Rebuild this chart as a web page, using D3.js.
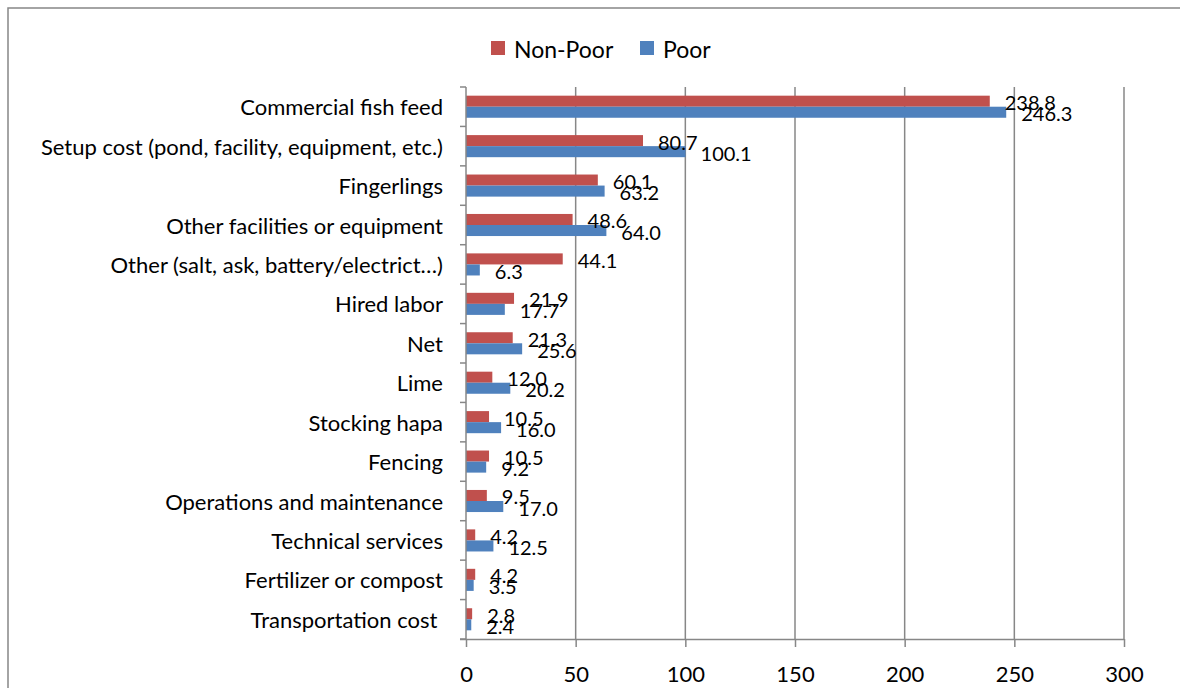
<!DOCTYPE html>
<html>
<head>
<meta charset="utf-8">
<script src="https://cdn.jsdelivr.net/npm/d3@7"></script>
<style>
  html, body { margin: 0; padding: 0; background: #fff; overflow: hidden; }
  svg { display: block; font-family: Lato, "Open Sans", sans-serif; }
</style>
</head>
<body>
<svg id="chart" width="1180" height="688"></svg>
<script>
// Cost categories, top to bottom
const categories = [
  "Commercial fish feed",
  "Setup cost (pond, facility, equipment, etc.)",
  "Fingerlings",
  "Other facilities or equipment",
  "Other (salt, ask, battery/electrict…)",
  "Hired labor",
  "Net",
  "Lime",
  "Stocking hapa",
  "Fencing",
  "Operations and maintenance",
  "Technical services",
  "Fertilizer or compost",
  "Transportation cost "
];
const seriesNames = ["Non-Poor", "Poor"];
const nonPoor = [238.8, 80.7, 60.1, 48.6, 44.1, 21.9, 21.3, 12.0, 10.5, 10.5, 9.5, 4.2, 4.2, 2.8];
const poor    = [246.3, 100.1, 63.2, 64.0, 6.3, 17.7, 25.6, 20.2, 16.0, 9.2, 17.0, 12.5, 3.5, 2.4];
const xTicks  = [0, 50, 100, 150, 200, 250, 300];

const colors = { "Non-Poor": "#C0504D", "Poor": "#4F81BD" };
const gridColor = "#878787";

const rows = categories.map((c, i) => ({
  category: c,
  values: [
    { series: "Non-Poor", value: nonPoor[i] },
    { series: "Poor", value: poor[i] }
  ]
}));

const svg = d3.select("#chart");

// outer chart frame (runs off the right and bottom edges)
svg.append("rect")
  .attr("x", 8).attr("y", 8)
  .attr("width", 1300).attr("height", 900)
  .attr("fill", "none")
  .attr("stroke", gridColor)
  .attr("stroke-width", 1.5);

const plot = { left: 466, right: 1124, top: 87, bottom: 639 };

const x = d3.scaleLinear().domain([0, 300]).range([plot.left, plot.right]);
const y = d3.scaleBand().domain(categories)
  .range([plot.top, plot.bottom])
  .paddingInner(0.44).paddingOuter(0.22);
const ySeries = d3.scaleBand().domain(seriesNames).range([0, y.bandwidth()]);

// vertical gridlines
svg.append("g")
  .selectAll("line")
  .data(xTicks.filter(t => t > 0))
  .join("line")
  .attr("x1", d => x(d)).attr("x2", d => x(d))
  .attr("y1", plot.top).attr("y2", plot.bottom)
  .attr("stroke", gridColor).attr("stroke-width", 1.5);

// bars
const groups = svg.append("g")
  .selectAll("g")
  .data(rows)
  .join("g")
  .attr("transform", d => `translate(0,${y(d.category)})`);

groups.selectAll("rect")
  .data(d => d.values)
  .join("rect")
  .attr("x", x(0))
  .attr("y", d => ySeries(d.series))
  .attr("width", d => x(d.value) - x(0))
  .attr("height", ySeries.bandwidth())
  .attr("fill", d => colors[d.series]);

// value labels
groups.selectAll("text")
  .data(d => d.values)
  .join("text")
  .attr("x", d => x(d.value) + 15)
  .attr("y", d => ySeries(d.series) + ySeries.bandwidth() / 2 + 1)
  .attr("dominant-baseline", "central")
  .attr("font-size", 20)
  .attr("fill", "#000")
  .text(d => d.value.toFixed(1));

// bottom axis
const xAxis = svg.append("g")
  .attr("transform", `translate(0,${plot.bottom})`)
  .call(d3.axisBottom(x).tickValues(xTicks).tickSize(8).tickSizeOuter(0).tickPadding(19));
xAxis.select(".domain").attr("stroke", gridColor).attr("stroke-width", 1.5)
  .attr("d", `M${plot.left - 6},0.5H${plot.right}`);
xAxis.selectAll(".tick line").attr("stroke", gridColor).attr("stroke-width", 1.5);
xAxis.selectAll(".tick text")
  .attr("font-size", 22).attr("font-family", "Lato, sans-serif").attr("fill", "#000");

// left axis line with ticks at category boundaries
const yAxisG = svg.append("g");
yAxisG.append("line")
  .attr("x1", plot.left).attr("x2", plot.left)
  .attr("y1", plot.top).attr("y2", plot.bottom)
  .attr("stroke", gridColor).attr("stroke-width", 1.5);
const boundaries = categories.map(c => y(c) - y.step() * y.paddingInner() / 2)
  .concat([plot.bottom]);
yAxisG.selectAll("line.tick")
  .data(boundaries)
  .join("line")
  .attr("class", "tick")
  .attr("x1", plot.left - 6).attr("x2", plot.left)
  .attr("y1", d => d).attr("y2", d => d)
  .attr("stroke", gridColor).attr("stroke-width", 1.5);

// category labels
svg.append("g")
  .selectAll("text")
  .data(categories)
  .join("text")
  .attr("x", 443)
  .attr("y", d => y(d) + y.bandwidth() / 2)
  .attr("text-anchor", "end")
  .attr("dominant-baseline", "central")
  .attr("font-size", 22)
  .style("white-space", "pre")
  .attr("fill", "#000")
  .text(d => d);

// legend
const legend = svg.append("g");
const legendItems = [
  { name: "Non-Poor", x: 491 },
  { name: "Poor", x: 640 }
];
const li = legend.selectAll("g").data(legendItems).join("g")
  .attr("transform", d => `translate(${d.x},41)`);
li.append("rect").attr("width", 14).attr("height", 14)
  .attr("fill", d => colors[d.name]);
li.append("text").attr("x", 23).attr("y", 7.5)
  .attr("dominant-baseline", "central")
  .attr("font-size", 23).attr("fill", "#000")
  .text(d => d.name);
</script>
</body>
</html>
